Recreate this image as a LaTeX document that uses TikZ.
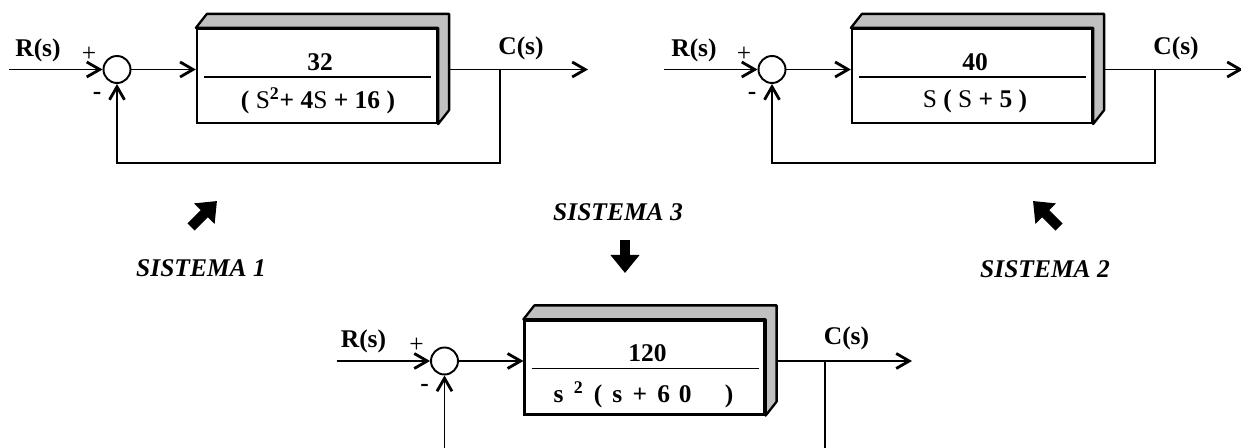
\documentclass[tikz,border=0pt]{standalone}
\usepackage{fontspec}
\setmainfont{Liberation Serif}
\usetikzlibrary{arrows.meta}
\definecolor{shade}{RGB}{192,192,192}

\begin{document}
\begin{tikzpicture}[
		x=0.02cm, y=-0.02cm,
		font=\fontsize{14.5}{17}\selectfont,
		sig/.style={line width=1.1pt},
		flow/.style={sig,-{Straight Barb[length=2.6mm,width=3mm,line width=1.6pt]}},
		sumnode/.style={circle,draw,line width=1.1pt,minimum size=0.54cm,inner sep=0pt,fill=white},
		blocknode/.style={draw,fill=white,line width=1.3pt,minimum width=4.8cm,minimum height=1.88cm,inner sep=0pt},
		face/.style={draw,fill=shade,line width=1.3pt,line join=round},
		lbl/.style={font=\fontsize{14.5}{17}\selectfont\bfseries,inner sep=1pt},
		sign/.style={inner sep=1pt},
		title/.style={font=\fontsize{14.5}{17}\selectfont\bfseries\itshape},
		bigarrow/.style={line width=0.2cm,-{Triangle[length=0.36cm,width=0.56cm]}},
	]
	\clip (0,0) rectangle (1241,448);

	% ---------- sistema 1 ----------
	\begin{scope}
		\coordinate (in1) at (9,69.5);
		\node[sumnode] (sum1) at (117,69.5) {};
		\node[blocknode] (plant1) at (317,76) {};
		\draw[face] (plant1.north west) -- ++(11,-14) -- ([shift={(11,-14)}]plant1.north east)
			-- ([shift={(11,-14)}]plant1.south east) -- (plant1.south east) -- (plant1.north east) -- cycle;
		\draw[sig] (204,77) -- (431,77);
		\node[lbl] (num1) at (320,62) {32};
		\node[lbl] (den1) at (318,101) {( \textmd{S}\textsuperscript{2}+ 4\textmd{S} + 16 )};
		\node[lbl] (r1) at (38,50) {R(s)};
		\node[sign] (p1) at (89,54) {+};
		\node[lbl] (m1) at (97,96) {-};
		\node[lbl] (c1) at (521,48) {C(s)};
		\coordinate (tap1) at (500,69.5);
		\coordinate (out1) at (588,69.5);
		\draw[flow] (in1) -- (sum1);
		\draw[flow] (sum1) -- (plant1.west |- sum1);
		\draw[flow] (plant1.east |- sum1) ++(11,0) -- (out1);
		\draw[flow] (tap1) -- ++(0,93.5) -| (sum1);
	\end{scope}

	% ---------- sistema 2 ----------
	\begin{scope}[shift={(655,0)}]
		\coordinate (in2) at (9,69.5);
		\node[sumnode] (sum2) at (117,69.5) {};
		\node[blocknode] (plant2) at (317,76) {};
		\draw[face] (plant2.north west) -- ++(11,-14) -- ([shift={(11,-14)}]plant2.north east)
			-- ([shift={(11,-14)}]plant2.south east) -- (plant2.south east) -- (plant2.north east) -- cycle;
		\draw[sig] (204,77) -- (431,77);
		\node[lbl] (num2) at (320,62) {40};
		\node[lbl] (den2) at (320,101) {\textmd{S} ( \textmd{S} + 5 )};
		\node[lbl] (r2) at (39,50) {R(s)};
		\node[sign] (p2) at (89,54) {+};
		\node[lbl] (m2) at (97,96) {-};
		\node[lbl] (c2) at (521,48) {C(s)};
		\coordinate (tap2) at (500,69.5);
		\coordinate (out2) at (588,69.5);
		\draw[flow] (in2) -- (sum2);
		\draw[flow] (sum2) -- (plant2.west |- sum2);
		\draw[flow] (plant2.east |- sum2) ++(11,0) -- (out2);
		\draw[flow] (tap2) -- ++(0,93.5) -| (sum2);
	\end{scope}

	% ---------- sistema 3 ----------
	\begin{scope}[shift={(327.5,291.5)}]
		\coordinate (in3) at (9,69.5);
		\node[sumnode] (sum3) at (117,69.5) {};
		\node[blocknode] (plant3) at (317,76) {};
		\draw[face] (plant3.north west) -- ++(11,-14) -- ([shift={(11,-14)}]plant3.north east)
			-- ([shift={(11,-14)}]plant3.south east) -- (plant3.south east) -- (plant3.north east) -- cycle;
		\draw[sig] (204,77) -- (431,77);
		\node[lbl] (num3) at (320,62) {120};
		\node[lbl] (den3) at (316,103) {s\hspace{0.4em}\textsuperscript{2}\hspace{0.4em}(\hspace{0.4em}s\hspace{0.4em}+\hspace{0.4em}6\hspace{0.35em}0\hspace{1.3em})};
		\node[lbl] (r3) at (36,50) {R(s)};
		\node[sign] (p3) at (89,54) {+};
		\node[lbl] (m3) at (97,96) {-};
		\node[lbl] (c3) at (519,47) {C(s)};
		\coordinate (tap3) at (497.5,69.5);
		\coordinate (out3) at (584.5,69.5);
		\draw[flow] (in3) -- (sum3);
		\draw[flow] (sum3) -- (plant3.west |- sum3);
		\draw[flow] (plant3.east |- sum3) ++(11,0) -- (out3);
		\draw[flow] (tap3) -- ++(0,93.5) -| (sum3);
	\end{scope}

	% ---------- titles ----------
	\node[title] (t1) at (201,268) {SISTEMA 1};
	\node[title] (t2) at (1045,269) {SISTEMA 2};
	\node[title] (t3) at (618,212) {SISTEMA 3};
	\draw[bigarrow] (191,227) -- (217,201);
	\draw[bigarrow] (1059,227) -- (1033,201);
	\draw[bigarrow] (625,240) -- (625,273);

\end{tikzpicture}
\end{document}
